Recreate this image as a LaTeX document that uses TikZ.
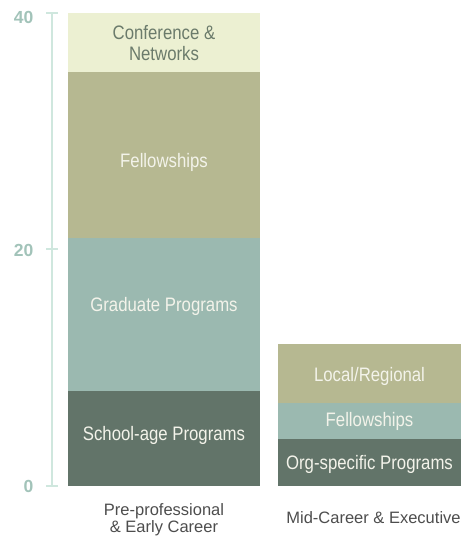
\documentclass[tikz,border=0pt]{standalone}
\usepackage{fontspec}
\setmainfont{Liberation Sans}
\newfontfamily\barfont[FakeStretch=0.86]{Liberation Sans}

\definecolor{confcol}{HTML}{ECF0D2}
\definecolor{khakicol}{HTML}{B6B891}
\definecolor{tealcol}{HTML}{9BB9B0}
\definecolor{darkcol}{HTML}{627469}
\definecolor{axiscol}{HTML}{CFE7DE}
\definecolor{ticktext}{HTML}{A2C3B9}
\definecolor{lighttext}{HTML}{F3F3EA}
\definecolor{conftext}{HTML}{6B7B6B}
\definecolor{catttext}{HTML}{4D4D4D}

\tikzset{
  axisline/.style={draw=axiscol, line width=2pt},
  ticklabel/.style={text=ticktext, anchor=east, inner sep=0pt, font=\fontsize{17.5}{18}\selectfont\bfseries},
  inlabel/.style={text=lighttext, align=center, inner sep=0pt, font=\barfont\fontsize{19.5}{21.6}\selectfont},
  catlabel/.style={text=catttext, align=center, inner sep=0pt, font=\fontsize{16.5}{16.5}\selectfont}
}

\begin{document}
\begin{tikzpicture}[x=1pt,y=11.825pt]
				\useasboundingbox (0,-4.482) rectangle (461,41.099);

				% axis
				\draw[axisline] (52,0) -- (52,40);
				\draw[axisline] (46,0) -- (58,0);
				\draw[axisline] (46,20) -- (58,20);
				\draw[axisline] (46,40) -- (58,40);
				\node[ticklabel] (t0) at (33.5,0) {0};
				\node[ticklabel] (t20) at (33.5,19.9) {20};
				\node[ticklabel] (t40) at (33.5,39.6) {40};

				% pre-professional bar
				\fill[darkcol] (68,0) rectangle (260,8);
				\fill[tealcol] (68,8) rectangle (260,21);
				\fill[khakicol] (68,21) rectangle (260,35);
				\fill[confcol] (68,35) rectangle (260,40);

				% mid-career bar
				\fill[darkcol] (278,0) rectangle (461,4);
				\fill[tealcol] (278,4) rectangle (461,7);
				\fill[khakicol] (278,7) rectangle (461,12);

				\node[inlabel, text=conftext] (conf) at (164,37.46) {Conference \&\\Networks};
				\node[inlabel] (fell1) at (164,27.4) {Fellowships};
				\node[inlabel] (grad) at (164,15.2) {Graduate Programs};
				\node[inlabel] (school) at (164,4.3) {School-age Programs};
				\node[inlabel] (local) at (369.5,9.3) {Local/Regional};
				\node[inlabel] (fell2) at (369.5,5.5) {Fellowships};
				\node[inlabel] (org) at (369.5,1.85) {Org-specific Programs};

				\node[catlabel] (pre) at (164,-2.85) {Pre-professional\\\& Early Career};
				\node[catlabel] (mid) at (373.5,-2.7) {Mid-Career \& Executive};
			\end{tikzpicture}
\end{document}
